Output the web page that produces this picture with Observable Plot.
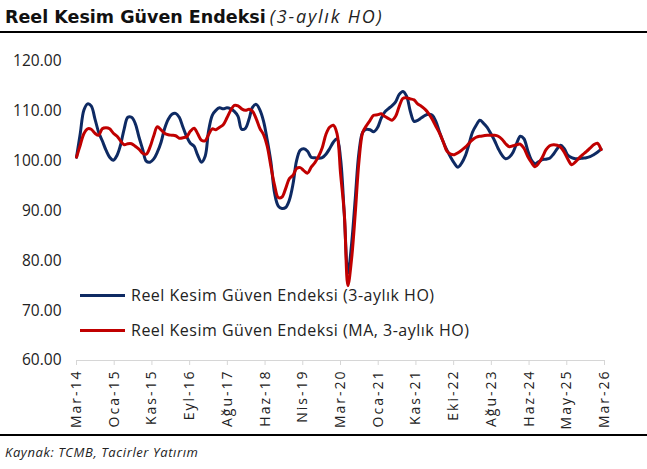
<!DOCTYPE html>
<html>
<head>
<meta charset="utf-8">
<script src="https://cdn.jsdelivr.net/npm/d3@7"></script>
<script src="https://cdn.jsdelivr.net/npm/@observablehq/plot@0.6"></script>
<style>
  html, body { margin: 0; padding: 0; background: #fff; }
  body { width: 647px; height: 469px; position: relative; overflow: hidden; font-family: "Open Sans", sans-serif; color: #222; }
  #title { position: absolute; left: 5px; top: 4px; white-space: nowrap; }
  #title .b { font-family: "DejaVu Sans", sans-serif; font-weight: bold; font-size: 17.5px; color: #111; }
  #title .i { font-family: "Open Sans", sans-serif; font-style: italic; font-size: 18px; letter-spacing: 1.8px; color: #222; }
  .rule { position: absolute; left: 0; width: 647px; height: 2px; background: #000; }
  #chart { position: absolute; left: 0; top: 35px; }
  #chart svg g[aria-label="x-axis tick label"] text { letter-spacing: 2px; }
  #caption { position: absolute; left: 5px; top: 443px; font-style: italic; font-size: 13px; letter-spacing: 0.6px; color: #222; white-space: nowrap; }
  .leg { position: absolute; left: 80px; display: flex; align-items: center; font-size: 16px; letter-spacing: 0.5px; color: #222; white-space: nowrap; }
  .leg span.sw { display: inline-block; width: 45px; height: 3px; margin-right: 6px; }
</style>
</head>
<body>
<div id="title"><span class="b">Reel Kesim Güven Endeksi</span> <span class="i">(3-aylık HO)</span></div>
<div class="rule" style="top:31px"></div>
<div id="chart"></div>
<div class="rule" style="top:434px"></div>
<div id="caption">Kaynak: TCMB, Tacirler Yatırım</div>
<script>
const seriesNames = ["Reel Kesim Güven Endeksi (3-aylık HO)", "Reel Kesim Güven Endeksi (MA, 3-aylık HO)"];
const seriesColors = ["#0E2A63", "#C00000"];

const blue = [100.8,105.5,110.2,111.5,111.1,108.5,105.8,104.1,102.2,100.8,
  100.2,101.2,103.2,106.5,108.8,108.8,107.6,104.9,102.4,100.0,
  99.8,100.4,101.8,103.8,106.5,108.4,109.4,109.6,108.8,106.8,
  104.9,103.6,103.0,101.2,99.8,101.0,106.0,109.2,110.2,110.7,
  110.5,110.7,110.5,110.0,109.0,106.4,106.6,108.5,110.8,111.4,
  110.3,108.0,104.3,99.8,93.5,91.0,90.5,90.7,92.2,95.5,
  100.0,102.2,102.5,102.0,100.8,100.7,100.6,100.7,101.4,102.5,
  103.8,104.5,100.5,89.3,77.5,83.5,92.5,101.8,105.8,106.4,
  106.3,105.9,106.7,108.6,109.8,110.5,111.1,111.9,113.4,114.0,
  113.0,110.0,108.0,108.2,108.7,109.2,109.4,109.2,108.0,105.8,
  103.9,102.2,100.8,99.6,98.8,99.6,101.1,103.5,105.8,107.2,
  108.2,107.6,106.8,105.5,104.1,102.5,101.2,100.5,100.8,101.8,
  103.5,105.0,104.5,102.2,100.3,99.5,99.9,100.3,100.4,100.6,
  101.4,102.5,103.2,102.5,101.2,100.7,100.5,100.5,100.6,100.7,
  100.9,101.3,101.8,102.4];

const red = [100.8,103.2,105.5,106.5,106.4,105.6,105.2,106.5,106.7,106.5,
  105.6,105.0,104.1,103.3,103.5,103.5,103.0,102.4,101.6,101.4,
  102.8,105.0,106.9,106.3,105.6,105.3,105.2,105.1,104.6,104.7,
  104.9,106.0,106.6,105.5,104.2,104.1,105.3,106.5,106.3,106.8,
  107.3,108.7,110.2,111.2,111.1,110.5,110.2,110.4,110.0,108.5,
  106.6,105.3,103.0,98.9,95.1,92.7,92.8,94.5,96.5,97.2,
  98.5,98.7,98.1,97.6,98.8,99.7,101.0,102.7,105.4,106.8,
  107.2,105.5,97.5,89.5,75.0,80.5,89.5,100.0,105.8,107.1,
  108.2,109.2,109.3,109.5,109.0,108.6,108.2,109.0,111.0,112.6,
  112.7,112.5,112.3,111.5,111.0,110.4,109.6,108.4,107.0,105.6,
  103.9,102.0,101.4,101.3,101.7,102.2,102.8,103.6,104.3,104.8,
  105.0,105.1,105.2,105.2,105.2,105.0,104.4,103.5,102.9,103.1,
  103.3,103.4,102.6,101.0,99.8,98.9,99.6,100.8,102.3,103.1,
  103.3,103.2,102.8,101.8,100.4,99.3,99.8,100.6,101.3,101.9,
  102.6,103.3,103.6,102.3];

const tickLabels = ["Mar-14","Oca-15","Kas-15","Eyl-16","Ağu-17","Haz-18","Nis-19","Mar-20","Oca-21","Kas-21","Eki-22","Ağu-23","Haz-24","May-25","Mar-26"];
const yTicks = [60, 70, 80, 90, 100, 110, 120];

const start = new Date(Date.UTC(2014, 2, 1));
const end = new Date(Date.UTC(2026, 2, 1));
const months = d3.utcMonths(start, end);

const rows = [];
months.forEach((d, i) => {
  rows.push({date: d, value: blue[i], s: seriesNames[0]});
});
months.forEach((d, i) => {
  rows.push({date: d, value: red[i], s: seriesNames[1]});
});

const tickDates = d3.range(tickLabels.length).map(k => new Date(+start + k * (end - start) / (tickLabels.length - 1)));
const labelMap = new Map(tickDates.map((d, i) => [+d, tickLabels[i]]));

const chart = Plot.plot({
  width: 647,
  height: 400,
  marginLeft: 76,
  marginRight: 43,
  marginTop: 26,
  marginBottom: 75,
  style: {fontFamily: "'Open Sans', sans-serif", color: "#222", background: "transparent"},
  x: {type: "utc", domain: [start, end]},
  y: {domain: [60, 120]},
  color: {domain: seriesNames, range: seriesColors},
  marks: [
    Plot.axisY({ticks: yTicks, tickFormat: d => d.toFixed(2), tickSize: 0, tickPadding: 15, fontSize: 15.5, label: null}),
    Plot.axisX({ticks: tickDates, tickFormat: d => labelMap.get(+d), tickRotate: -90, tickSize: 5, tickPadding: 4, fontSize: 14, stroke: "#d6d6d6", label: null}),
    Plot.ruleY([60], {stroke: "#d6d6d6", strokeWidth: 1}),
    Plot.line(rows, {x: "date", y: "value", z: "s", stroke: "s", strokeWidth: 3, curve: "catmull-rom"})
  ]
});
document.getElementById("chart").appendChild(chart);

// legend
const legTops = [284, 319];
seriesNames.forEach((n, i) => {
  const el = document.createElement("div");
  el.className = "leg";
  el.style.top = legTops[i] + "px";
  el.innerHTML = `<span class="sw" style="background:${seriesColors[i]}"></span><span>${n}</span>`;
  document.body.appendChild(el);
});
</script>
</body>
</html>
